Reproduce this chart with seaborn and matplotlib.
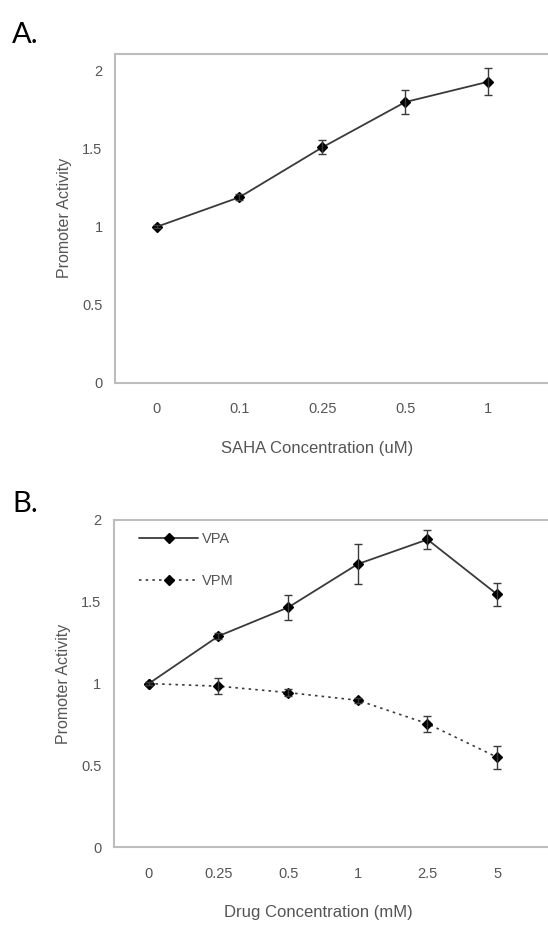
import matplotlib
matplotlib.use("Agg")
import matplotlib.pyplot as plt
import seaborn as sns
import pandas as pd
import numpy as np
from matplotlib.lines import Line2D

# panel A: SAHA
saha_conc = ["0", "0.1", "0.25", "0.5", "1"]
saha_activity = [1.0, 1.19, 1.51, 1.80, 1.93]
saha_err = [0.01, 0.02, 0.045, 0.077, 0.087]

# panel B: VPA / VPM
drug_conc = ["0", "0.25", "0.5", "1", "2.5", "5"]
vpa_activity = [1.0, 1.29, 1.465, 1.73, 1.88, 1.545]
vpa_err = [0.01, 0.02, 0.078, 0.122, 0.06, 0.07]
vpm_activity = [1.0, 0.984, 0.945, 0.898, 0.755, 0.55]
vpm_err = [0.01, 0.048, 0.02, 0.015, 0.048, 0.07]

y_ticks = [0, 0.5, 1, 1.5, 2]
y_labels = ["0", "0.5", "1", "1.5", "2"]

sns.set_style("white")
plt.rcParams["font.family"] = ["Liberation Sans", "DejaVu Sans"]

text_color = "#555555"
line_color = "#3a3a3a"
spine_color = "#bdbdbd"
dots = (0, (1.5, 2.5))

fig = plt.figure(figsize=(5.48, 9.25), dpi=100)
ax_a = fig.add_axes([0.210, 0.586, 0.790, 0.356])
ax_b = fig.add_axes([0.208, 0.084, 0.792, 0.354])


def style_axes(ax, n, xmax, ymax, xlabel, xlabel_pos):
    ax.set_xlim(-0.5, xmax)
    ax.set_ylim(0, ymax)
    ax.set_yticks(y_ticks)
    ax.set_yticklabels(y_labels)
    ax.set_xticks(np.arange(-0.5, n, 1.0), minor=True)
    ax.tick_params(axis="x", which="major", length=0, pad=14, labelsize=10.5,
                   labelcolor=text_color)
    ax.tick_params(axis="x", which="minor", length=3, width=0.8,
                   color="#dddddd", direction="out")
    ax.tick_params(axis="y", length=0, pad=9, labelsize=10.5, labelcolor=text_color)
    for side in ["left", "top", "bottom"]:
        ax.spines[side].set_color(spine_color)
        ax.spines[side].set_linewidth(1.5)
    ax.spines["right"].set_visible(False)
    ax.grid(False)
    ax.set_xlabel(xlabel, fontsize=12, color=text_color)
    ax.xaxis.set_label_coords(xlabel_pos, -0.175)
    ax.set_ylabel("Promoter Activity", fontsize=11.5, color=text_color)
    ax.yaxis.set_label_coords(-0.099, 0.5)


# ---- A ----
df_a = pd.DataFrame({"conc": saha_conc, "activity": saha_activity})
sns.pointplot(data=df_a, x="conc", y="activity", order=saha_conc, ax=ax_a,
              color=line_color, markers="D", linestyles="-", errorbar=None,
              markersize=5, linewidth=1.3, markeredgecolor="black",
              markerfacecolor="black")
ax_a.errorbar(np.arange(len(saha_conc)), saha_activity, yerr=saha_err, fmt="none",
              ecolor=line_color, elinewidth=1, capsize=3, capthick=1)
style_axes(ax_a, len(saha_conc), 4.72, 2.11, "SAHA Concentration (uM)", 0.467)

# ---- B ----
df_b = pd.DataFrame({"conc": drug_conc * 2,
                     "activity": vpa_activity + vpm_activity,
                     "drug": ["VPA"] * len(drug_conc) + ["VPM"] * len(drug_conc)})
sns.pointplot(data=df_b[df_b["drug"] == "VPA"], x="conc", y="activity",
              order=drug_conc, ax=ax_b, color=line_color, markers="D",
              linestyles="-", errorbar=None, markersize=5, linewidth=1.3,
              markeredgecolor="black", markerfacecolor="black")
sns.pointplot(data=df_b[df_b["drug"] == "VPM"], x="conc", y="activity",
              order=drug_conc, ax=ax_b, color=line_color, markers="D",
              linestyles=dots, errorbar=None, markersize=5, linewidth=1.2,
              markeredgecolor="black", markerfacecolor="black")
x_b = np.arange(len(drug_conc))
ax_b.errorbar(x_b, vpa_activity, yerr=vpa_err, fmt="none", ecolor=line_color,
              elinewidth=1, capsize=3, capthick=1)
ax_b.errorbar(x_b, vpm_activity, yerr=vpm_err, fmt="none", ecolor=line_color,
              elinewidth=1, capsize=3, capthick=1)
style_axes(ax_b, len(drug_conc), 5.73, 2.0, "Drug Concentration (mM)", 0.47)

handles = [
    Line2D([0], [0], color=line_color, linestyle="-", lw=1.3, marker="D",
           markersize=5, markerfacecolor="black", markeredgecolor="black"),
    Line2D([0], [0], color=line_color, linestyle=dots, lw=1.2, marker="D",
           markersize=5, markerfacecolor="black", markeredgecolor="black"),
]
leg = ax_b.legend(handles, ["VPA", "VPM"], loc="upper left",
                  bbox_to_anchor=(0.045, 0.98), frameon=False, fontsize=10.5,
                  handlelength=4.0, handletextpad=0.3, labelspacing=1.9,
                  borderaxespad=0)
for t in leg.get_texts():
    t.set_color(text_color)

fig.text(0.022, 0.953, "A.", fontsize=21, family=["Lato", "DejaVu Sans"], color="black")
fig.text(0.022, 0.447, "B.", fontsize=21, family=["Lato", "DejaVu Sans"], color="black")

fig.savefig("out.png", dpi=100)
